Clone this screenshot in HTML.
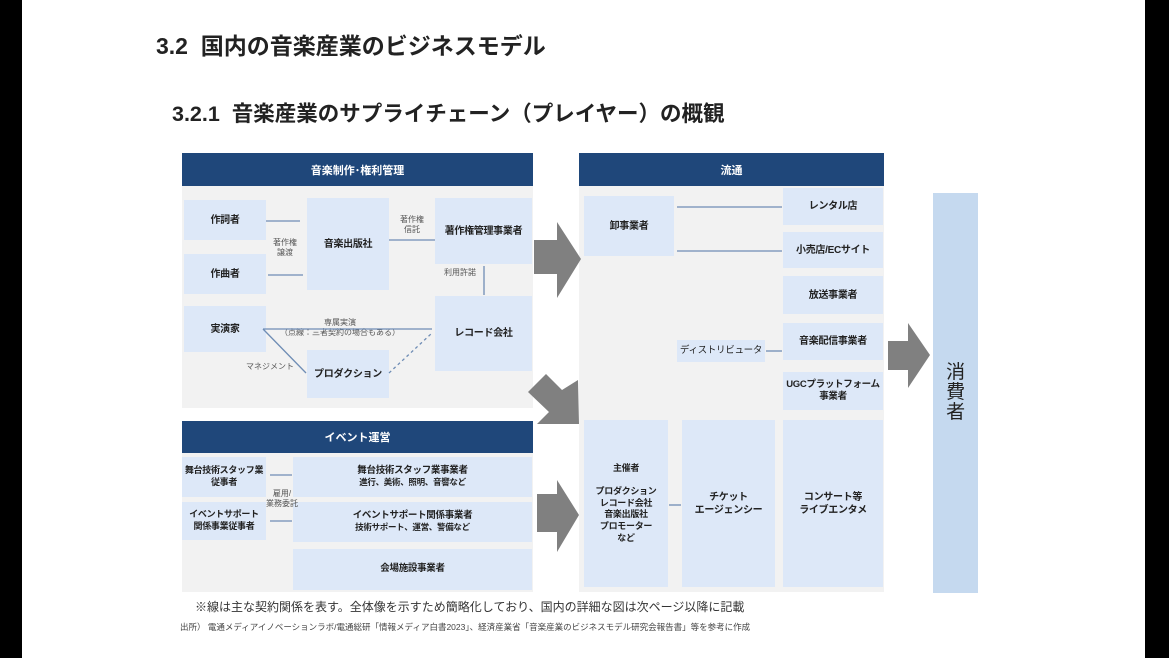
<!DOCTYPE html>
<html><head><meta charset="utf-8"><style>
*{margin:0;padding:0;box-sizing:border-box}
body{width:1169px;height:658px;background:#000;position:relative;overflow:hidden;font-family:"Liberation Sans","Noto Sans CJK JP",sans-serif;color:#222}
.page{position:absolute;left:22px;top:0;width:1123px;height:658px;background:#fff}
.a{position:absolute}
.hd{position:absolute;background:#1f477a;color:#fff;font-size:11px;font-weight:bold;display:flex;align-items:center;justify-content:center}
.bg{position:absolute;background:#f2f2f2}
.b{position:absolute;background:#dde8f8;font-size:10px;font-weight:bold;display:flex;align-items:center;justify-content:center;text-align:center;line-height:1.3;color:#222;white-space:nowrap;letter-spacing:-0.3px}
.l{position:absolute;font-size:8px;color:#555;text-align:center;line-height:1.25;white-space:nowrap}
</style></head><body>
<div class="page"></div>
<div class="a" style="left:156px;top:27px;font-size:23px;font-weight:bold;color:#222;white-space:nowrap">3.2&nbsp; 国内の音楽産業のビジネスモデル</div>
<div class="a" style="left:172px;top:97px;font-size:21.5px;font-weight:bold;color:#222;white-space:nowrap">3.2.1&nbsp; 音楽産業のサプライチェーン（プレイヤー）の概観</div>

<div class="bg" style="left:182px;top:186px;width:351px;height:222px"></div>
<div class="hd" style="left:182px;top:153px;width:351px;height:33px">音楽制作･権利管理</div>
<div class="b" style="left:184px;top:200px;width:82px;height:40px"><div>作詞者</div></div>
<div class="b" style="left:184px;top:254px;width:82px;height:40px"><div>作曲者</div></div>
<div class="b" style="left:184px;top:306px;width:82px;height:46px"><div>実演家</div></div>
<div class="b" style="left:307px;top:198px;width:82px;height:92px"><div>音楽出版社</div></div>
<div class="b" style="left:435px;top:198px;width:97px;height:66px"><div>著作権管理事業者</div></div>
<div class="b" style="left:435px;top:296px;width:97px;height:75px"><div>レコード会社</div></div>
<div class="b" style="left:307px;top:350px;width:82px;height:48px"><div>プロダクション</div></div>
<div class="l" style="left:268px;top:238px;width:34px">著作権<br>譲渡</div>
<div class="l" style="left:392px;top:215px;width:40px">著作権<br>信託</div>
<div class="l" style="left:438px;top:268px;width:44px">利用許諾</div>
<div class="l" style="left:270px;top:318px;width:140px">専属実演<br>（点線：三者契約の場合もある）</div>
<div class="l" style="left:240px;top:362px;width:60px">マネジメント</div>

<div class="bg" style="left:182px;top:453px;width:351px;height:139px"></div>
<div class="hd" style="left:182px;top:421px;width:351px;height:32px">イベント運営</div>
<div class="b" style="left:182px;top:457px;width:84px;height:40px;font-size:9px"><div>舞台技術スタッフ業<br>従事者</div></div>
<div class="b" style="left:182px;top:502px;width:84px;height:38px;font-size:9px"><div>イベントサポート<br>関係事業従事者</div></div>
<div class="b" style="left:293px;top:457px;width:239px;height:40px;font-size:9.5px"><div>舞台技術スタッフ業事業者<br><span style="font-size:8.5px">進行、美術、照明、音響など</span></div></div>
<div class="b" style="left:293px;top:502px;width:239px;height:40px;font-size:9.5px"><div>イベントサポート関係事業者<br><span style="font-size:8.5px">技術サポート、運営、警備など</span></div></div>
<div class="b" style="left:293px;top:549px;width:239px;height:41px;font-size:9.5px"><div>会場施設事業者</div></div>
<div class="l" style="left:262px;top:489px;width:40px">雇用/<br>業務委託</div>

<div class="bg" style="left:579px;top:186px;width:305px;height:406px"></div>
<div class="hd" style="left:579px;top:153px;width:305px;height:33px">流通</div>
<div class="b" style="left:584px;top:196px;width:90px;height:60px"><div>卸事業者</div></div>
<div class="b" style="left:783px;top:188px;width:100px;height:37px"><div>レンタル店</div></div>
<div class="b" style="left:783px;top:232px;width:100px;height:36px"><div>小売店/ECサイト</div></div>
<div class="b" style="left:783px;top:276px;width:100px;height:38px"><div>放送事業者</div></div>
<div class="b" style="left:783px;top:323px;width:100px;height:37px"><div>音楽配信事業者</div></div>
<div class="b" style="left:783px;top:372px;width:100px;height:38px;font-size:9.5px"><div>UGCプラットフォーム<br>事業者</div></div>
<div class="b" style="left:677px;top:340px;width:88px;height:22px;font-weight:normal;font-size:9.5px"><div>ディストリビュータ</div></div>
<div class="b" style="left:584px;top:420px;width:84px;height:167px;font-size:9px"><div>主催者<br><br>プロダクション<br>レコード会社<br>音楽出版社<br>プロモーター<br>など</div></div>
<div class="b" style="left:682px;top:420px;width:93px;height:167px"><div>チケット<br>エージェンシー</div></div>
<div class="b" style="left:783px;top:420px;width:100px;height:167px"><div>コンサート等<br>ライブエンタメ</div></div>

<div class="b" style="left:933px;top:193px;width:45px;height:400px;background:#c5d9ef;font-weight:normal;font-size:19px;line-height:1.05"><div>消<br>費<br>者</div></div>

<svg class="a" style="left:0;top:0" width="1169" height="658">
<g stroke="#6f8db5" stroke-width="1.3" fill="none">
<line x1="266" y1="221" x2="300" y2="221"/>
<line x1="268" y1="275" x2="303" y2="275"/>
<line x1="389" y1="240" x2="435" y2="240"/>
<line x1="484" y1="266" x2="484" y2="295"/>
<line x1="263" y1="329" x2="432" y2="329"/>
<line x1="263" y1="329" x2="306" y2="373"/>
<line x1="389" y1="373" x2="432" y2="333" stroke-dasharray="3,3"/>
<line x1="270" y1="475" x2="292" y2="475"/>
<line x1="270" y1="521" x2="292" y2="521"/>
<line x1="677" y1="207" x2="782" y2="207"/>
<line x1="677" y1="251" x2="782" y2="251"/>
<line x1="766" y1="351" x2="782" y2="351"/>
<line x1="669" y1="505" x2="681" y2="505"/>
</g>
<g fill="#808080">
<polygon points="534,240 557,240 557,222 581,259 557,298 557,274 534,274"/>
<polygon points="537,494 557,494 557,480 579,515 557,552 557,532 537,532"/>
<polygon points="888,341 908,341 908,323 930,355 908,388 908,370 888,370"/>
<polygon points="528,392 546,374 562,390 578,380 579,424 537,424 549,412"/>
</g>
</svg>
<div class="a" style="left:195px;top:598px;font-size:12px;color:#333;white-space:nowrap">※線は主な契約関係を表す。全体像を示すため簡略化しており、国内の詳細な図は次ページ以降に記載</div>
<div class="a" style="left:180px;top:621px;font-size:8.5px;color:#444;white-space:nowrap">出所） 電通メディアイノベーションラボ/電通総研「情報メディア白書2023」、経済産業省「音楽産業のビジネスモデル研究会報告書」等を参考に作成</div>
</body></html>
